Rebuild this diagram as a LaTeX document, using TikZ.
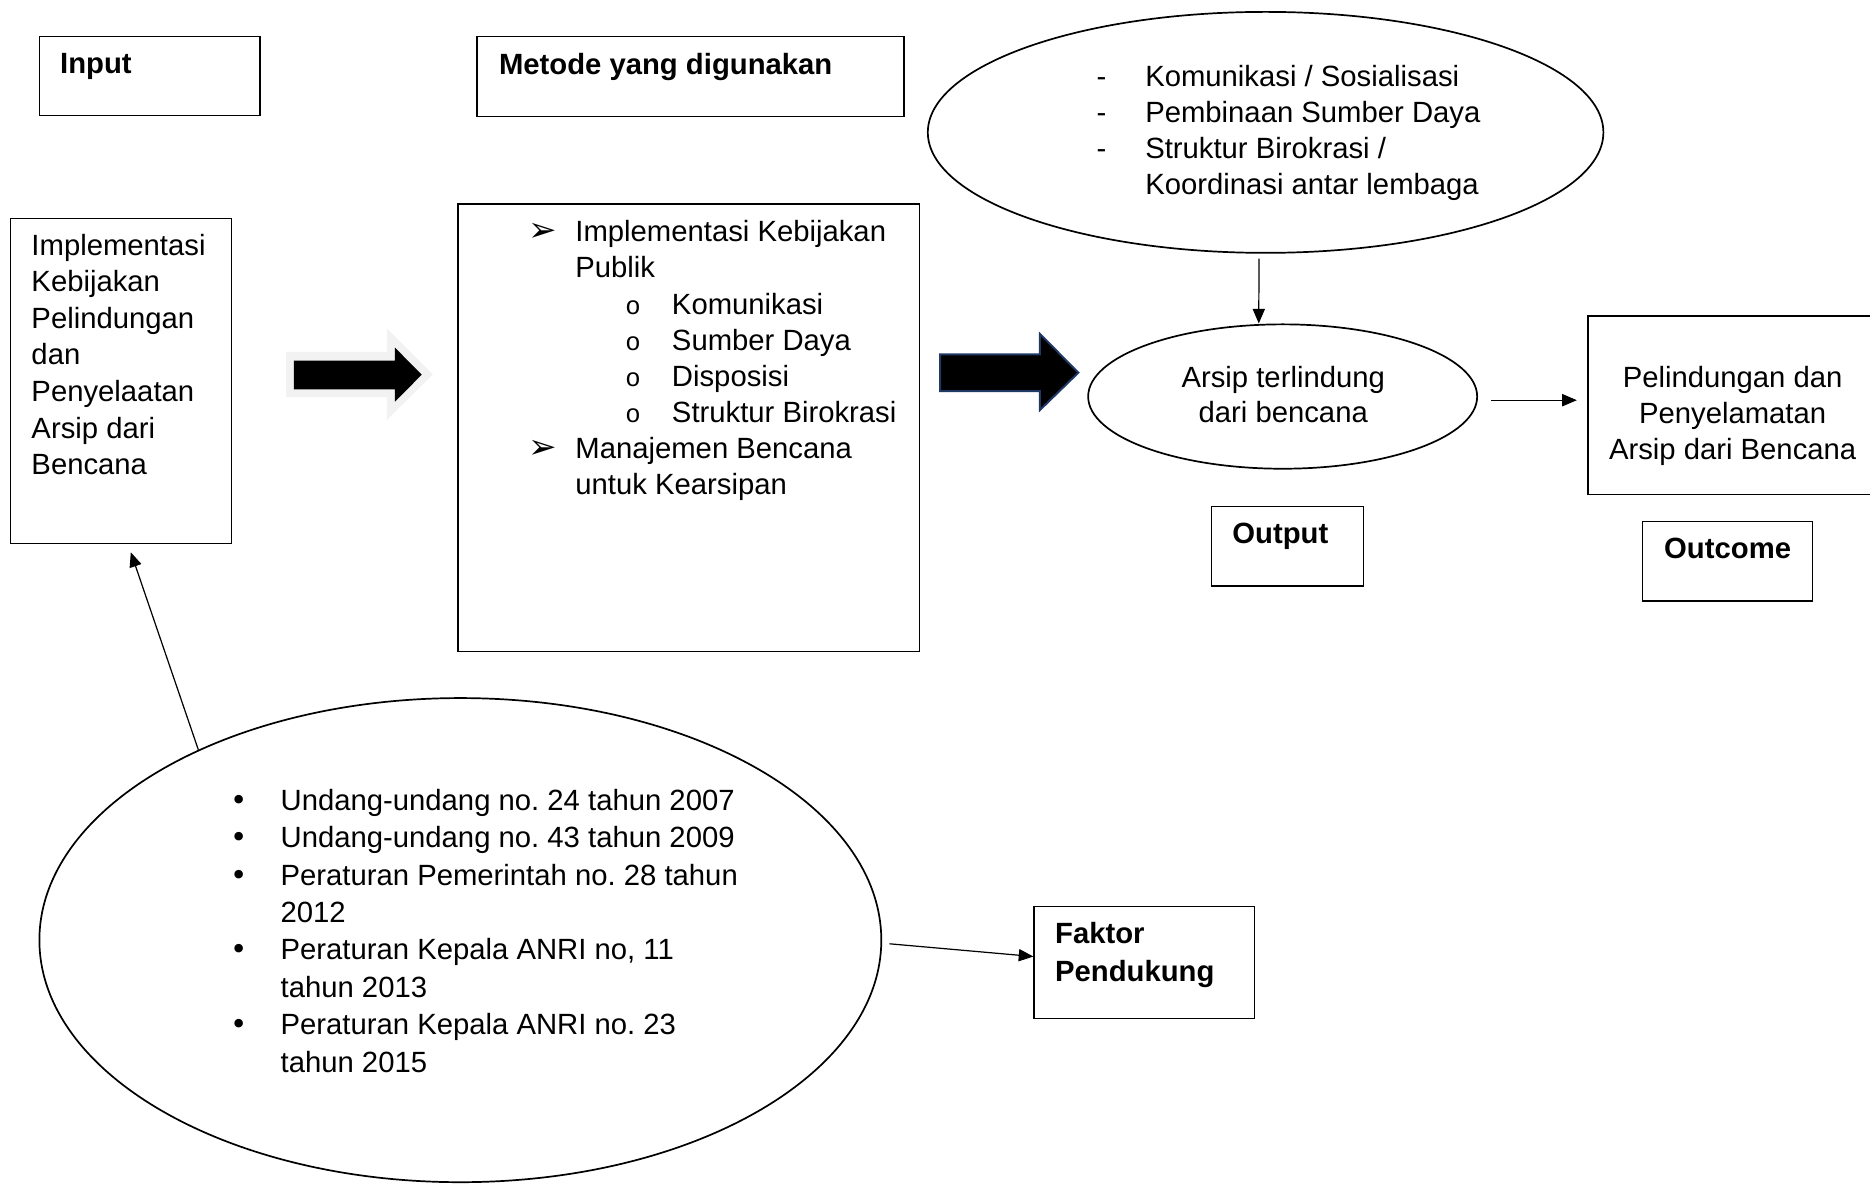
\documentclass[tikz,border=0pt]{standalone}
\usepackage{fontspec}
\setmainfont{Liberation Sans}
\setmonofont{Liberation Mono}
\newfontfamily\dingfont{DejaVu Sans}
\usetikzlibrary{shapes.geometric,fit,arrows.meta}
\frenchspacing

\definecolor{navy}{HTML}{1F3864}

\begin{document}
\begin{tikzpicture}[x=0.489pt,y=-0.489pt,
    box/.style={draw,inner sep=0pt,line width=0.5pt},
    oval/.style={draw,ellipse,inner sep=0pt,line width=0.7pt},
    txt/.style={anchor=base west,inner sep=0pt,font=\fontsize{12}{14.8}\selectfont},
    >={Triangle[length=6pt,width=5pt]}]
    \useasboundingbox (0,0) rectangle (1568,992);

    % header boxes
    \node[box,fit={(33,30.5) (218,97)}] (input) {};
    \node[txt,font=\bfseries\fontsize{12}{14.8}\selectfont] (inputlbl) at (50,62) {Input};
    \node[box,fit={(400,30.5) (758,98)}] (metode) {};
    \node[txt,font=\bfseries\fontsize{12}{14.8}\selectfont] (metodelbl) at (418,62.5) {Metode yang digunakan};

    % input
    \node[box,fit={(9,183) (194,456)}] (kebijakan) {};
    \node[txt,font=\fontsize{12}{15}\selectfont] (kebijakantxt) at (26,214) {\begin{tabular}[t]{@{}l@{}}
        Implementasi\\ Kebijakan\\ Pelindungan\\ dan\\ Penyelaatan\\ Arsip dari\\ Bencana
    \end{tabular}};

    % metode
    \node[box,fit={(384,171) (771,546)}] (metodebox) {};
    \node[txt] (metodelist) at (443,202.8) {\begin{tabular}[t]{@{}l@{}}
        \makebox[19.1pt][l]{\dingfont\fontsize{14}{14}\selectfont ➢}Implementasi Kebijakan\\
        \hspace*{19.1pt}Publik\\
        \hspace*{39.6pt}\makebox[19.1pt][l]{\ttfamily\fontsize{10.5}{10.5}\selectfont o}Komunikasi\\
        \hspace*{39.6pt}\makebox[19.1pt][l]{\ttfamily\fontsize{10.5}{10.5}\selectfont o}Sumber Daya\\
        \hspace*{39.6pt}\makebox[19.1pt][l]{\ttfamily\fontsize{10.5}{10.5}\selectfont o}Disposisi\\
        \hspace*{39.6pt}\makebox[19.1pt][l]{\ttfamily\fontsize{10.5}{10.5}\selectfont o}Struktur Birokrasi\\
        \makebox[19.1pt][l]{\dingfont\fontsize{14}{14}\selectfont ➢}Manajemen Bencana\\
        \hspace*{19.1pt}untuk Kearsipan
    \end{tabular}};

    % block arrows
    \fill[black!5] (240,295) -- (324.3,295) -- (324.3,275.3) -- (363,314) -- (324.3,352.2)
        -- (324.3,333) -- (240,333) -- cycle;
    \fill[black] (246.5,302.4) -- (331.2,302.4) -- (331.2,291.5) -- (353.6,314.2) -- (331.2,336.8)
        -- (331.2,326.5) -- (246.5,326.5) -- cycle;
    \filldraw[fill=black,draw=navy,line width=0.8pt] (788.2,297.1) -- (872,297.1) -- (872,280)
        -- (904.2,312.5) -- (872,343.8) -- (872,327.9) -- (788.2,327.9) -- cycle;

    % output
    \node[oval,minimum width=277pt,minimum height=98.8pt] (upper) at (1061.2,111) {};
    \node[txt] (upperlist) at (919,72.3) {\begin{tabular}[t]{@{}l@{}}
        \makebox[20pt][l]{-}Komunikasi / Sosialisasi\\
        \makebox[20pt][l]{-}Pembinaan Sumber Daya\\
        \makebox[20pt][l]{-}Struktur Birokrasi /\\
        \hspace*{20pt}Koordinasi antar lembaga
    \end{tabular}};
    \node[oval,minimum width=159.5pt,minimum height=59.2pt] (arsip) at (1075.5,332.5) {};
    \node[txt,anchor=base,font=\fontsize{12}{14.5}\selectfont] (arsiptxt) at (1076,325) {\begin{tabular}[t]{@{}c@{}}
        Arsip terlindung\\ dari bencana
    \end{tabular}};
    \node[box,fit={(1016,424.5) (1143,491.4)}] (output) {};
    \node[txt,font=\bfseries\fontsize{12}{14.8}\selectfont] (outputlbl) at (1033,456) {Output};

    % outcome
    \node[box,fit={(1331.5,265) (1590,414.5)}] (hasil) {};
    \node[txt,anchor=base,font=\fontsize{12}{14.7}\selectfont] (hasiltxt) at (1452.8,325) {\begin{tabular}[t]{@{}c@{}}
        Pelindungan dan\\ Penyelamatan\\ Arsip dari Bencana
    \end{tabular}};
    \node[box,fit={(1377,437) (1520,504)}] (outcome) {};
    \node[txt,font=\bfseries\fontsize{12}{14.8}\selectfont] (outcomelbl) at (1395,468) {Outcome};

    % faktor pendukung
    \node[oval,minimum width=345.2pt,minimum height=198.5pt] (regulasi) at (386,788.3) {};
    \node[txt,font=\fontsize{12}{15.36}\selectfont] (regulasilist) at (193,679.3) {\begin{tabular}[t]{@{}l@{}}
        \makebox[20.5pt][l]{\dingfont •}Undang-undang no. 24 tahun 2007\\
        \makebox[20.5pt][l]{\dingfont •}Undang-undang no. 43 tahun 2009\\
        \makebox[20.5pt][l]{\dingfont •}Peraturan Pemerintah no. 28 tahun\\
        \hspace*{20.5pt}2012\\
        \makebox[20.5pt][l]{\dingfont •}Peraturan Kepala ANRI no, 11\\
        \hspace*{20.5pt}tahun 2013\\
        \makebox[20.5pt][l]{\dingfont •}Peraturan Kepala ANRI no. 23\\
        \hspace*{20.5pt}tahun 2015
    \end{tabular}};
    \node[box,fit={(867,760.3) (1052,854)}] (faktor) {};
    \node[txt,font=\bfseries\fontsize{12}{15.3}\selectfont] (faktortxt) at (884.3,791.5) {\begin{tabular}[t]{@{}l@{}}
        Faktor\\ Pendukung
    \end{tabular}};

    % connectors
    \draw[->,line width=0.5pt] ([xshift=-2.7pt,yshift=-2pt]upper.south) -- ([xshift=-9.8pt]arsip.north);
    \draw[->,line width=0.5pt] ([xshift=5.5pt,yshift=-1.5pt]arsip.east) -- ([xshift=-4.3pt,yshift=-1.5pt]arsip.east -| hasil.west);
    \draw[->,line width=0.5pt] (regulasi.144.5) -- ([xshift=4pt,yshift=-3.2pt]kebijakan.south);
    \draw[->,line width=0.5pt] ([xshift=3pt,yshift=-1.5pt]regulasi.east) -- ([yshift=2.5pt]faktor.west);
\end{tikzpicture}
\end{document}
